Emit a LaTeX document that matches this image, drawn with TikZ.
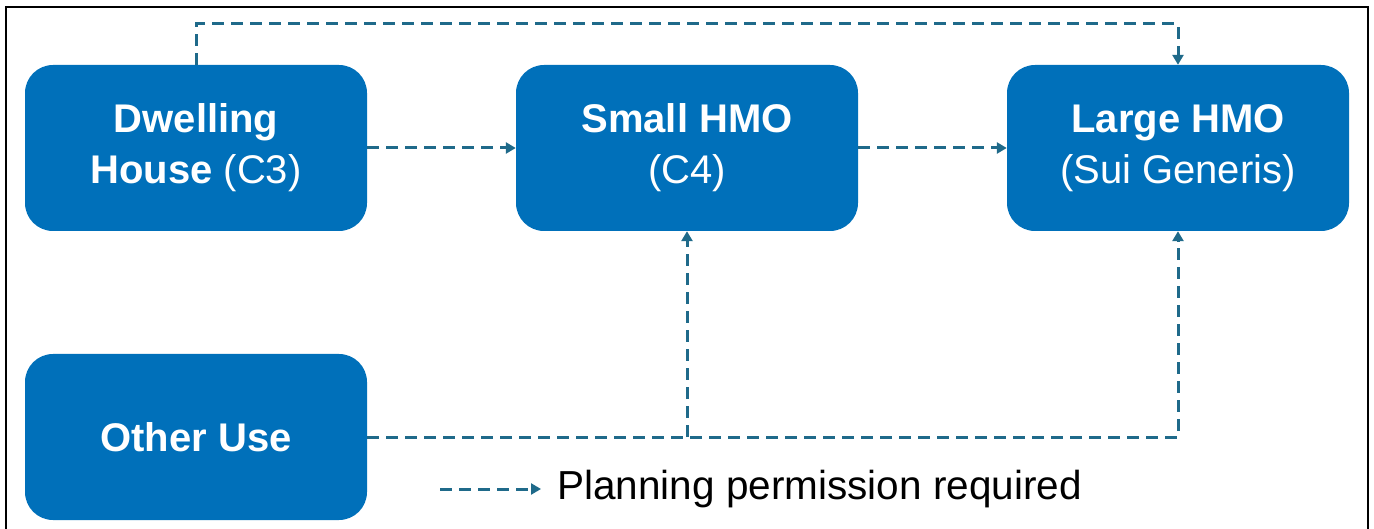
\documentclass[tikz,border=0pt]{standalone}
\usepackage{fontspec}
\setmainfont{Liberation Sans}
\usetikzlibrary{arrows.meta}
\definecolor{boxblue}{HTML}{0070BA}
\definecolor{linkteal}{HTML}{1F6A8A}
\begin{document}
\begin{tikzpicture}[x=1pt,y=-1pt,
    usebox/.style={fill=boxblue, rounded corners=28pt, minimum width=342pt,
      minimum height=166pt, text=white, align=center,
      font=\fontsize{40}{51}\selectfont},
    flow/.style={draw=linkteal, line width=3pt, dash pattern=on 12pt off 7pt,
      -{Triangle[length=10pt,width=11pt]}}]
    \useasboundingbox (0,0) rectangle (1374,529);
    \draw[line width=2pt] (6,529) -- (6,7) -- (1368,7) -- (1368,529);
    \node[usebox] (dwell) at (196,148) {\textbf{Dwelling}\\\textbf{House} (C3)};
    \node[usebox] (small) at (687,148) {\textbf{Small HMO}\\(C4)};
    \node[usebox] (large) at (1178,148) {\textbf{Large HMO}\\(Sui Generis)};
    \node[usebox] (other) at (196,437) {\textbf{Other Use}};
    \coordinate (topline) at (0,24);
    \coordinate (split) at (small.south |- other.east);
    \draw[flow] (dwell.north) |- (topline -| large.north) -- (large.north);
    \draw[flow] (dwell.east) -- (small.west);
    \draw[flow] (small.east) -- (large.west);
    \draw[flow] (other.east) -| (large.south);
    \draw[flow] (split) -- (small.south);
    % legend
    \coordinate (legstart) at (440,489);
    \node[anchor=west, inner sep=0pt, font=\fontsize{40.5}{48}\selectfont]
      (legtext) at (557,489) {Planning permission required};
    \draw[flow] (legstart) -- ([xshift=-16pt]legtext.west);
\end{tikzpicture}
\end{document}
